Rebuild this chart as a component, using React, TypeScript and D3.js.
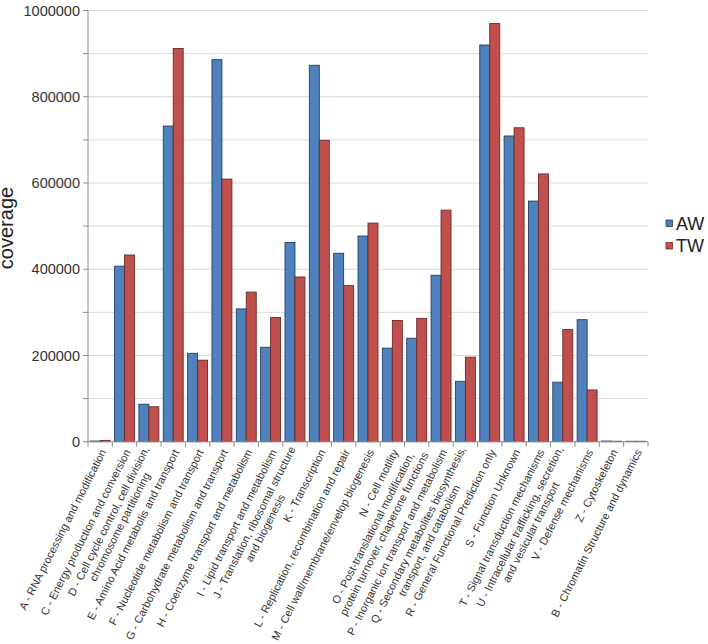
import { useRef, useEffect } from 'react';
import * as d3 from 'd3';

const categories: string[][] = [
  ['A - RNA processing and modification'],
  ['C - Energy production and conversion'],
  ['D - Cell cycle control, cell division,', 'chromosome partitioning'],
  ['E - Amino Acid metabolis and transport'],
  ['F - Nucleotide metabolism and transport'],
  ['G - Carbohydrate metabolism and transport'],
  ['H - Coenzyme transport and metabolism'],
  ['I - Lipid transport and metabolism'],
  ['J - Translation, ribosomal structure', 'and biogenesis'],
  ['K - Transcription'],
  ['L - Replication, recombination and repair'],
  ['M - Cell wall/membrane/envelop biogenesis'],
  ['N - Cell motility'],
  ['O - Post-translational modification,', 'protein turnover, chaperone functions'],
  ['P - Inorganic ion transport and metabolism'],
  ['Q - Secondary metabolites biosynthesis,', 'transport, and catabolism'],
  ['R - General Functional Prediction only'],
  ['S - Function Unknown'],
  ['T - Signal transduction mechanisms'],
  ['U - Intracellular trafficking, secretion,', 'and vesicular transport'],
  ['V - Defense mechanisms'],
  ['Z - Cytoskeleton'],
  ['B - Chromatin Structure and dynamics'],
];

const awValues = [
  1500, 407000, 87000, 732000, 205000, 886000, 308000, 219000, 462000, 873000, 437000, 477000,
  217000, 240000, 386000, 140000, 920000, 709000, 558000, 138000, 283000, 1500, 1000,
];

const twValues = [
  3000, 433000, 81000, 912000, 189000, 609000, 347000, 288000, 382000, 699000, 362000, 507000,
  281000, 286000, 537000, 196000, 970000, 728000, 621000, 260000, 120000, 1000, 1000,
];

const seriesNames = ['AW', 'TW'];
const yTicks = [0, 200000, 400000, 600000, 800000, 1000000];
const yGrid = d3.range(0, 1000001, 100000);

const fills = ['#4f81bd', '#c0504d'];
const strokes = ['#243e63', '#6b2a28'];
const font = 'Liberation Sans, Arial, sans-serif';

export default function App() {
  const svgRef = useRef<SVGSVGElement>(null);
  const width = 708;
  const height = 644;

  useEffect(() => {
    if (!svgRef.current) return;
    const svg = d3.select(svgRef.current);
    svg.selectAll('*').remove();

    const left = 88;
    const right = 648;
    const top = 10.5;
    const bottom = 441.7;

    const keys = categories.map((c) => c[0]);
    const x = d3.scaleBand().domain(keys).range([left, right]).padding(0);
    const xs = d3.scaleBand().domain(seriesNames).range([0, x.bandwidth()]).paddingOuter(0.22);
    const y = d3.scaleLinear().domain([0, 1000000]).range([bottom, top]);

    // Gridlines
    svg
      .append('g')
      .selectAll('line')
      .data(yGrid.filter((v) => v > 0))
      .join('line')
      .attr('x1', left)
      .attr('x2', right)
      .attr('y1', (d) => y(d))
      .attr('y2', (d) => y(d))
      .attr('stroke', '#d9d9d9')
      .attr('stroke-width', 1);

    // Bars
    const rows = keys.map((k, i) => ({ key: k, vals: [awValues[i], twValues[i]] }));
    const groups = svg
      .append('g')
      .selectAll('g')
      .data(rows)
      .join('g')
      .attr('transform', (d) => `translate(${x(d.key)},0)`);

    groups
      .selectAll('rect')
      .data((d) => d.vals.map((v, j) => ({ v, j })))
      .join('rect')
      .attr('x', (d) => xs(seriesNames[d.j])!)
      .attr('y', (d) => y(d.v))
      .attr('width', xs.bandwidth())
      .attr('height', (d) => bottom - y(d.v))
      .attr('fill', (d) => fills[d.j])
      .attr('stroke', (d) => strokes[d.j])
      .attr('stroke-width', 0.9);

    // Axes lines
    const axis = svg.append('g').attr('stroke', '#8c8c8c').attr('stroke-width', 1);
    axis.append('line').attr('x1', left).attr('x2', left).attr('y1', top).attr('y2', bottom);
    axis.append('line').attr('x1', left).attr('x2', right).attr('y1', bottom).attr('y2', bottom);
    axis
      .selectAll('line.yt')
      .data(yGrid)
      .join('line')
      .attr('class', 'yt')
      .attr('x1', left - 5)
      .attr('x2', left)
      .attr('y1', (d) => y(d))
      .attr('y2', (d) => y(d));
    axis
      .selectAll('line.xt')
      .data([...keys.map((k) => x(k)!), right])
      .join('line')
      .attr('class', 'xt')
      .attr('x1', (d) => d)
      .attr('x2', (d) => d)
      .attr('y1', bottom)
      .attr('y2', bottom + 5);

    // Y tick labels
    svg
      .append('g')
      .selectAll('text')
      .data(yTicks)
      .join('text')
      .attr('x', left - 8)
      .attr('y', (d) => y(d))
      .attr('dy', '0.35em')
      .attr('text-anchor', 'end')
      .attr('font-family', font)
      .attr('font-size', '14.5px')
      .attr('fill', '#333')
      .text((d) => d);

    // Y title
    svg
      .append('text')
      .attr('transform', `translate(13,228) rotate(-90)`)
      .attr('text-anchor', 'middle')
      .attr('font-family', font)
      .attr('font-size', '20px')
      .attr('fill', '#222')
      .text('coverage');

    // X labels
    const fs = 11;
    const lh = 12.5;
    const xl = svg
      .append('g')
      .selectAll('g')
      .data(categories)
      .join('g')
      .attr('transform', (d) => `translate(${x(d[0])! + x.bandwidth() / 2 + 3},450) rotate(-63)`);

    xl.each(function (lines) {
      const g = d3.select(this);
      const texts = lines.map((line, i) =>
        g
          .append('text')
          .attr('y', (i - (lines.length - 1) / 2) * lh)
          .attr('dy', '0.35em')
          .attr('font-family', font)
          .attr('font-size', `${fs}px`)
          .attr('fill', '#333')
          .text(line)
      );
      if (lines.length === 1) {
        texts[0].attr('text-anchor', 'end');
      } else {
        const w = d3.max(texts, (t) => (t.node() as SVGTextElement).getComputedTextLength()) ?? 0;
        texts.forEach((t) => t.attr('text-anchor', 'middle').attr('x', -w / 2));
      }
    });

    // Legend
    const lg = svg.append('g').attr('transform', 'translate(666,220)');
    seriesNames.forEach((name, i) => {
      lg.append('rect')
        .attr('x', 0)
        .attr('y', i * 22.5)
        .attr('width', 6.5)
        .attr('height', 6.5)
        .attr('fill', fills[i])
        .attr('stroke', strokes[i])
        .attr('stroke-width', 0.8);
      lg.append('text')
        .attr('x', 10)
        .attr('y', i * 22.5 + 3.3)
        .attr('dy', '0.35em')
        .attr('font-family', font)
        .attr('font-size', '18px')
        .attr('fill', '#222')
        .text(name);
    });
  }, []);

  return (
    <svg
      ref={svgRef}
      width={width}
      height={height}
      style={{ position: 'absolute', left: 0, top: 0, background: '#fff' }}
    />
  );
}
